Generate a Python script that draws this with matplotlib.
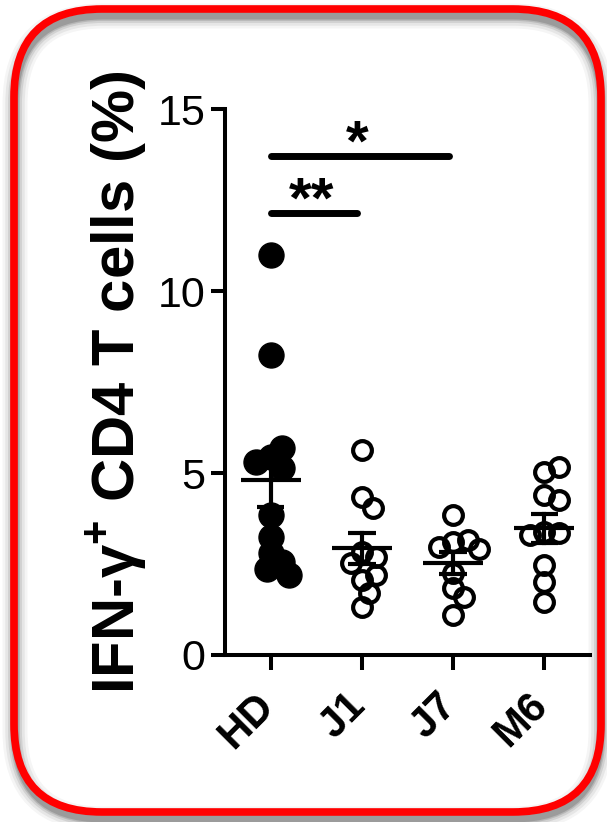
import numpy as np
import matplotlib.pyplot as plt
from matplotlib.patches import FancyBboxPatch
from matplotlib.transforms import ScaledTranslation

plt.rcParams['font.family'] = ['Liberation Sans', 'DejaVu Sans']
plt.rcParams['mathtext.fontset'] = 'custom'
plt.rcParams['mathtext.rm'] = 'Liberation Sans'
plt.rcParams['mathtext.bf'] = 'Liberation Sans:bold'

# IFN-gamma+ CD4 T cells (%) per donor
groups = ['HD', 'J1', 'J7', 'M6']
hd = [11.0, 8.25, 5.45, 5.7, 5.15, 5.3, 3.85, 3.25, 2.8, 2.55, 2.35, 2.2]
j1 = [5.63, 4.34, 4.04, 2.83, 2.69, 2.53, 2.06, 2.2, 1.70, 1.32]
j7 = [3.85, 3.10, 3.16, 2.97, 2.9, 2.25, 1.84, 1.59, 1.10]
m6 = [5.03, 5.16, 4.40, 4.26, 3.38, 3.35, 3.30, 2.47, 2.0, 1.46]
filled = [True, False, False, False]

# significance brackets: (group a, group b, label)
sig = [(0, 2, '*'), (0, 1, '**')]
sig_y = [13.7, 12.15]

W, H = 607, 822
fig = plt.figure(figsize=(W / 100, H / 100), dpi=100)

# background frame with soft shadow underneath
bg = fig.add_axes([0, 0, 1, 1])
bg.set_xlim(0, W)
bg.set_ylim(H, 0)
bg.axis('off')
for lw, a in [(18, 0.04), (14, 0.06), (10, 0.09), (7, 0.12), (5, 0.15)]:
    sh = FancyBboxPatch((15, 16), 586, 803, boxstyle='round,pad=0,rounding_size=88',
                        fc='none', ec='black', lw=lw, alpha=a)
    bg.add_patch(sh)
frame = FancyBboxPatch((14, 9), 587, 803, boxstyle='round,pad=0,rounding_size=88',
                       fc='none', ec='#ff0000', lw=5.5)
bg.add_patch(frame)

ax = fig.add_axes([225 / W, 1 - 655 / H, (590 - 225) / W, (655 - 109) / H])
ax.patch.set_alpha(0)
ax.set_xlim(-0.5, 3.5)
ax.set_ylim(0, 15)

px_x = (590 - 225) / 4.0
px_y = (655 - 109) / 15.0


def swarm(vals, diam, overlap=0.55, step=0.04):
    # spread points sideways so they do not sit fully on top of each other
    placed = []
    offs = []
    for v in vals:
        for k in range(0, 40):
            cands = [0.0] if k == 0 else [k * step, -k * step]
            ok = None
            for c in cands:
                if all(np.hypot((c - o) * px_x, (v - pv) * px_y) >= diam * overlap
                       for o, pv in placed):
                    ok = c
                    break
            if ok is not None:
                break
        placed.append((ok, v))
        offs.append(ok)
    return np.array(offs)


for i, (vals, fill) in enumerate(zip([hd, j1, j7, m6], filled)):
    vals = np.array(vals)
    m = vals.mean()
    sem = vals.std(ddof=1) / np.sqrt(len(vals))
    ax.plot([i - 0.33, i + 0.33], [m, m], color='black', lw=3, solid_capstyle='butt', zorder=3)
    ax.plot([i, i], [m - sem, m + sem], color='black', lw=3, zorder=3)
    for e in (m - sem, m + sem):
        ax.plot([i - 0.15, i + 0.15], [e, e], color='black', lw=3, solid_capstyle='butt', zorder=3)
    offs = swarm(vals, 25)
    if fill:
        ax.plot(i + offs, vals, 'o', ms=18, mfc='black', mec='black', mew=1, zorder=4)
    else:
        ax.plot(i + offs, vals, 'o', ms=13.5, mfc='none', mec='black', mew=3, zorder=4)

for (a, b, lab), y in zip(sig, sig_y):
    ax.plot([a + 0.0, b - 0.05], [y, y], color='black', lw=5, solid_capstyle='round')
    ax.text((a + b) / 2 - 0.05, y - 0.12, lab, ha='center', va='baseline',
            fontsize=42, fontweight='bold')

for s in ['top', 'right']:
    ax.spines[s].set_visible(False)
for s in ['left', 'bottom']:
    ax.spines[s].set_linewidth(2.9)
ax.set_yticks([0, 5, 10, 15])
ax.tick_params(axis='y', length=10, width=2.9, pad=4, labelsize=31)
ax.set_xticks(range(4))
ax.set_xticklabels(groups, rotation=45, ha='right', va='center', rotation_mode='anchor',
                   fontsize=30, fontweight='bold')
ax.tick_params(axis='x', length=11, width=2.9, pad=21)
shift = ScaledTranslation(-0.03, 0, fig.dpi_scale_trans)
for lbl in ax.get_xticklabels():
    lbl.set_transform(lbl.get_transform() + shift)
ax.set_ylabel(r'IFN-γ$^\mathbf{+}$ CD4 T cells (%)', fontsize=43, fontweight='bold', labelpad=6)

fig.savefig('out.png', dpi=100)
